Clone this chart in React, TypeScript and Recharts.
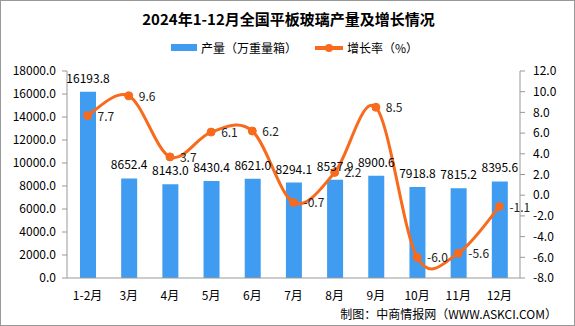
import { ComposedChart, Bar, Line, XAxis, YAxis, LabelList } from 'recharts'

const months = ['1-2月', '3月', '4月', '5月', '6月', '7月', '8月', '9月', '10月', '11月', '12月']
const output = [16193.8, 8652.4, 8143.0, 8430.4, 8621.0, 8294.1, 8537.9, 8900.6, 7918.8, 7815.2, 8395.6]
const growth = [7.7, 9.6, 3.7, 6.1, 6.2, -0.7, 2.2, 8.5, -6.0, -5.6, -1.1]
const leftTicks = [0, 2000, 4000, 6000, 8000, 10000, 12000, 14000, 16000, 18000]
const rightTicks = [-8, -6, -4, -2, 0, 2, 4, 6, 8, 10, 12]
const edgeTicks = months.map((_, i) => i).concat(months.length)

const data = months.map((m, i) => ({ m, output: output[i], growth: growth[i] }))

const BLUE = '#3f9cf0'
const ORANGE = '#f86a1c'
const FONT = '"Noto Sans CJK SC", sans-serif'

// excel-like smooth line (cardinal spline, tension 0)
const smooth = (ctx: any) => {
  let pts: number[][] = []
  return {
    areaStart() {},
    areaEnd() {},
    lineStart() {
      pts = []
    },
    point(x: number, y: number) {
      pts.push([+x, +y])
    },
    lineEnd() {
      if (!pts.length) return
      ctx.moveTo(pts[0][0], pts[0][1])
      for (let i = 0; i < pts.length - 1; i++) {
        const p0 = pts[i - 1] || pts[i]
        const p1 = pts[i]
        const p2 = pts[i + 1]
        const p3 = pts[i + 2] || p2
        ctx.bezierCurveTo(
          p1[0] + (p2[0] - p0[0]) / 6, p1[1] + (p2[1] - p0[1]) / 6,
          p2[0] - (p3[0] - p1[0]) / 6, p2[1] - (p3[1] - p1[1]) / 6,
          p2[0], p2[1]
        )
      }
    },
  }
}

const GrowthLabel = (props: any) => {
  const { x, y, value } = props
  return (
    <text x={x + 10} y={y + 5} fontSize={12} fill="#222" fontFamily={FONT}>
      {Number(value).toFixed(1)}
    </text>
  )
}

export default function App() {
  return (
    <div style={{ position: 'absolute', left: 0, top: 0, width: 575, height: 326, boxSizing: 'border-box', border: '1px solid #999', background: '#fff', fontFamily: FONT }}>
      <div style={{ position: 'absolute', top: 7, left: 0, width: 575, textAlign: 'center', fontSize: 15, fontWeight: 'bold', color: '#000' }}>
        2024年1-12月全国平板玻璃产量及增长情况
      </div>
      <div style={{ position: 'absolute', top: 38, left: 170, fontSize: 12, color: '#000', display: 'flex', alignItems: 'center' }}>
        <span style={{ display: 'inline-block', width: 26, height: 7, background: BLUE, marginRight: 4 }} />
        <span>产量（万重量箱）</span>
        <span style={{ display: 'inline-block', position: 'relative', width: 28, height: 10, marginLeft: 18, marginRight: 4 }}>
          <span style={{ position: 'absolute', left: 0, top: 3, width: 28, height: 4, background: ORANGE }} />
          <span style={{ position: 'absolute', left: 10, top: 1, width: 8, height: 8, borderRadius: 4, background: ORANGE }} />
        </span>
        <span>增长率（%）</span>
      </div>
      <div style={{ position: 'absolute', top: 304, right: 17, fontSize: 12, color: '#000' }}>
        制图：中商情报网（WWW.ASKCI.COM）
      </div>
      <ComposedChart width={573} height={324} data={data} margin={{ top: 70, right: 0, left: 0, bottom: 23 }} style={{ position: 'absolute', left: 0, top: 0 }}>
        <XAxis
          xAxisId="edge"
          type="number"
          domain={[0, months.length]}
          ticks={edgeTicks}
          interval={0}
          height={0}
          axisLine={false}
          tickFormatter={() => ''}
          tickLine={{ stroke: '#999' }}
          tickSize={5}
        />
        <XAxis dataKey="m" tick={{ fontSize: 12, fill: '#000', fontFamily: FONT }} stroke="#999" tickLine={false} tickMargin={7} height={24} />
        <YAxis
          yAxisId="l"
          domain={[0, 18000]}
          ticks={leftTicks}
          interval={0}
          width={66}
          tickFormatter={(v: number) => v.toFixed(1)}
          tick={{ fontSize: 12, fill: '#000', fontFamily: FONT }}
          stroke="#999"
          tickSize={5}
          tickMargin={6}
        />
        <YAxis
          yAxisId="r"
          orientation="right"
          domain={[-8, 12]}
          ticks={rightTicks}
          interval={0}
          width={54}
          tickFormatter={(v: number) => v.toFixed(1)}
          tick={{ fontSize: 12, fill: '#000', fontFamily: FONT }}
          stroke="#999"
          tickSize={5}
          tickMargin={8}
        />
        <Bar yAxisId="l" dataKey="output" fill={BLUE} barSize={16} isAnimationActive={false}>
          <LabelList dataKey="output" position="top" offset={9} fontSize={12} fill="#000" fontFamily={FONT} formatter={(v: any) => Number(v).toFixed(1)} />
        </Bar>
        <Line
          yAxisId="r"
          dataKey="growth"
          type={smooth as any}
          stroke={ORANGE}
          strokeWidth={3}
          dot={{ r: 4, fill: ORANGE, stroke: ORANGE, strokeWidth: 1 }}
          isAnimationActive={false}
        >
          <LabelList dataKey="growth" content={<GrowthLabel />} />
        </Line>
      </ComposedChart>
    </div>
  )
}
